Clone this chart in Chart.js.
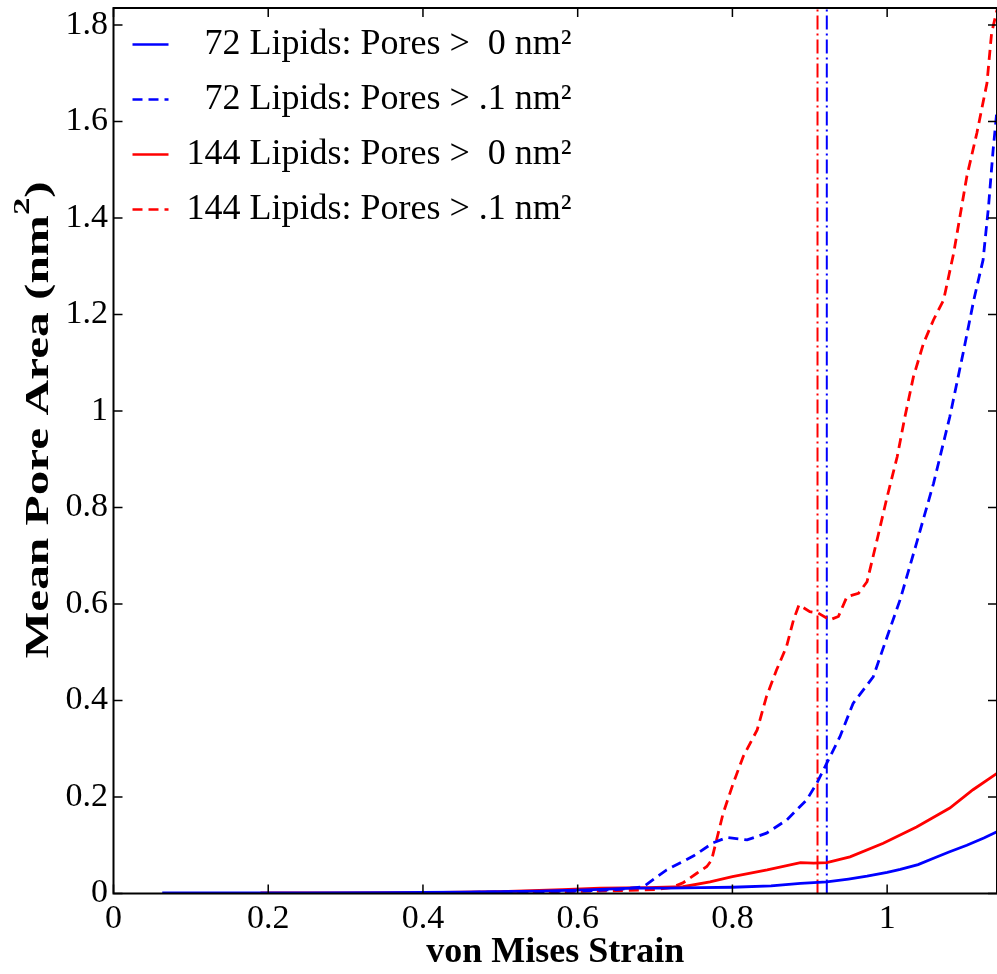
<!DOCTYPE html>
<html>
<head>
<meta charset="utf-8">
<title>Mean Pore Area</title>
<script src="https://cdn.jsdelivr.net/npm/chart.js@4.4.0/dist/chart.umd.min.js"></script>
<style>
  html, body { margin: 0; padding: 0; background: #fff; }
  canvas { display: block; }
</style>
</head>
<body>
<canvas id="poreChart" width="997" height="974"></canvas>
<script>
// Dati (strain di von Mises -> area media dei pori, nm^2)
const strain72All = [0.063, 0.15, 0.25, 0.35, 0.45, 0.55, 0.62, 0.672, 0.715, 0.76, 0.8, 0.85, 0.888, 0.922, 0.95, 0.974, 1.0, 1.017, 1.04, 1.06, 1.08, 1.103, 1.125, 1.142];
const area72All = [0.001, 0.001, 0.001, 0.002, 0.003, 0.005, 0.008, 0.011, 0.011, 0.012, 0.013, 0.016, 0.021, 0.024, 0.03, 0.036, 0.044, 0.05, 0.06, 0.073, 0.086, 0.1, 0.115, 0.128];

const strain72Large = [0.42, 0.5, 0.6, 0.65, 0.685, 0.715, 0.75, 0.775, 0.793, 0.819, 0.844, 0.87, 0.896, 0.909, 0.922, 0.939, 0.956, 0.982, 1.0, 1.017, 1.038, 1.06, 1.081, 1.099, 1.112, 1.124, 1.131, 1.137, 1.142];
const area72Large = [0.002, 0.003, 0.005, 0.008, 0.014, 0.049, 0.078, 0.105, 0.116, 0.111, 0.125, 0.152, 0.194, 0.228, 0.27, 0.325, 0.394, 0.449, 0.532, 0.61, 0.726, 0.85, 0.988, 1.126, 1.23, 1.313, 1.423, 1.541, 1.624];

const strain144All = [0.19, 0.3, 0.4, 0.5, 0.58, 0.629, 0.69, 0.736, 0.771, 0.8, 0.845, 0.888, 0.905, 0.922, 0.952, 0.995, 1.038, 1.081, 1.111, 1.142];
const area144All = [0.001, 0.001, 0.002, 0.004, 0.008, 0.011, 0.012, 0.014, 0.024, 0.035, 0.049, 0.064, 0.063, 0.064, 0.076, 0.104, 0.138, 0.177, 0.215, 0.249];

const strain144Large = [0.48, 0.58, 0.66, 0.7, 0.72, 0.736, 0.754, 0.767, 0.773, 0.788, 0.801, 0.814, 0.832, 0.844, 0.857, 0.87, 0.879, 0.886, 0.9, 0.911, 0.926, 0.937, 0.948, 0.963, 0.974, 0.987, 1.0, 1.013, 1.023, 1.034, 1.047, 1.06, 1.073, 1.086, 1.103, 1.116, 1.129, 1.135, 1.142];
const area144Large = [0.002, 0.004, 0.006, 0.008, 0.012, 0.022, 0.042, 0.056, 0.069, 0.166, 0.228, 0.284, 0.339, 0.408, 0.463, 0.512, 0.567, 0.598, 0.584, 0.581, 0.567, 0.574, 0.615, 0.622, 0.646, 0.733, 0.822, 0.905, 0.988, 1.071, 1.14, 1.189, 1.23, 1.327, 1.486, 1.576, 1.679, 1.783, 1.831];

// Linee verticali tratto-punto (strain di rottura)
const ruptureStrain144 = 0.91;
const ruptureStrain72 = 0.922;

const seriesLabels = [
  "  72 Lipids: Pores >  0 nm\u00b2",
  "  72 Lipids: Pores > .1 nm\u00b2",
  "144 Lipids: Pores >  0 nm\u00b2",
  "144 Lipids: Pores > .1 nm\u00b2",
];

const xMin = 0, xMax = 1.142;
const yMin = 0, yMax = 1.835;

const toPoints = (xs, ys) => xs.map((x, i) => ({ x: x, y: ys[i] }));
const vLine = (x) => [{ x: x, y: yMin }, { x: x, y: yMax }];
const tickText = (v) => String(Number(v.toFixed(1)));

Chart.defaults.font.family = '"Liberation Serif", "Times New Roman", serif';
Chart.defaults.color = "#000";

// Tacche interne su tutti e quattro i lati + riquadro
const boxTicks = {
  id: "boxTicks",
  afterDraw(chart) {
    const { ctx, chartArea: a, scales } = chart;
    const len = 9;
    ctx.save();
    ctx.strokeStyle = "#000";
    ctx.lineWidth = 1.5;
    ctx.beginPath();
    scales.x.ticks.forEach((t) => {
      const px = scales.x.getPixelForValue(t.value);
      ctx.moveTo(px, a.bottom); ctx.lineTo(px, a.bottom - len);
      ctx.moveTo(px, a.top); ctx.lineTo(px, a.top + len);
    });
    scales.y.ticks.forEach((t) => {
      const py = scales.y.getPixelForValue(t.value);
      ctx.moveTo(a.left, py); ctx.lineTo(a.left + len, py);
      ctx.moveTo(a.right, py); ctx.lineTo(a.right - len, py);
    });
    ctx.stroke();
    ctx.lineWidth = 2;
    ctx.strokeRect(a.left, a.top, a.right - a.left, a.bottom - a.top);
    ctx.restore();
  },
};

// Titolo asse y con esponente (testo allungato come nell'originale)
const yTitle = {
  id: "yTitle",
  afterDraw(chart) {
    const { ctx, chartArea: a } = chart;
    const main = "Mean Pore Area (nm";
    const big = 'bold 34px "Liberation Serif"';
    const small = 'bold 24px "Liberation Serif"';
    ctx.save();
    ctx.fillStyle = "#000";
    ctx.font = big;
    const wMain = ctx.measureText(main).width;
    const wClose = ctx.measureText(")").width;
    ctx.font = small;
    const wSup = ctx.measureText("2").width;
    const total = wMain + wSup + wClose;
    ctx.translate(48, (a.top + a.bottom) / 2 - 31);
    ctx.rotate(-Math.PI / 2);
    ctx.scale(1.45, 1);
    ctx.textBaseline = "alphabetic";
    let x = -total / 2;
    ctx.font = big;
    ctx.fillText(main, x, 0);
    x += wMain;
    ctx.font = small;
    ctx.fillText("2", x, -19);
    x += wSup;
    ctx.font = big;
    ctx.fillText(")", x, 0);
    ctx.restore();
  },
};

const ctx = document.getElementById("poreChart").getContext("2d");

new Chart(ctx, {
  type: "scatter",
  data: {
    datasets: [
      { label: seriesLabels[0], data: toPoints(strain72All, area72All), borderColor: "#0000ff", borderDash: [] },
      { label: seriesLabels[1], data: toPoints(strain72Large, area72Large), borderColor: "#0000ff", borderDash: [10, 6] },
      { label: seriesLabels[2], data: toPoints(strain144All, area144All), borderColor: "#ff0000", borderDash: [] },
      { label: seriesLabels[3], data: toPoints(strain144Large, area144Large), borderColor: "#ff0000", borderDash: [10, 6] },
      { label: "rupture 144", data: vLine(ruptureStrain144), borderColor: "#ff0000", borderDash: [14, 4, 2, 4], borderWidth: 2 },
      { label: "rupture 72", data: vLine(ruptureStrain72), borderColor: "#0000ff", borderDash: [14, 4, 2, 4], borderWidth: 2 },
    ],
  },
  options: {
    responsive: false,
    animation: false,
    devicePixelRatio: 1,
    showLine: true,
    elements: {
      point: { radius: 0, hoverRadius: 0 },
      line: { borderWidth: 2.8, tension: 0, fill: false },
    },
    layout: { padding: { left: 0, top: 8, right: 0, bottom: 0 } },
    scales: {
      x: {
        type: "linear",
        min: xMin,
        max: xMax,
        grid: { display: false, drawTicks: false },
        border: { display: false },
        ticks: { stepSize: 0.2, includeBounds: false, padding: 5, font: { size: 34 }, color: "#000", callback: tickText },
        title: { display: true, text: "von Mises Strain", font: { size: 36, weight: "bold" }, padding: 0, color: "#000" },
        afterFit(scale) {
          scale.height = 80.5;
          scale.paddingLeft = 0;
          scale.paddingRight = 0;
        },
      },
      y: {
        type: "linear",
        min: yMin,
        max: yMax,
        grid: { display: false, drawTicks: false },
        border: { display: false },
        ticks: { stepSize: 0.2, includeBounds: false, padding: 5.5, font: { size: 34 }, color: "#000", callback: tickText },
        afterFit(scale) {
          scale.width = 113.5;
          scale.paddingTop = 0;
          scale.paddingBottom = 0;
        },
      },
    },
    plugins: {
      tooltip: { enabled: false },
      legend: {
        position: "chartArea",
        align: "start",
        // titolo vuoto: serve solo a spostare le voci in basso
        title: { display: true, text: "", font: { size: 1, lineHeight: 1 }, padding: { top: 6.5, bottom: 0 } },
        labels: {
          usePointStyle: true,
          pointStyleWidth: 36,
          padding: 19,
          font: { size: 36 },
          color: "#000",
          generateLabels(chart) {
            return chart.data.datasets.slice(0, 4).map((ds, i) => ({
              text: ds.label,
              datasetIndex: i,
              strokeStyle: ds.borderColor,
              fillStyle: ds.borderColor,
              lineWidth: 2.5,
              lineDash: ds.borderDash,
              lineCap: "butt",
              pointStyle: "line",
              fontColor: "#000",
              hidden: false,
            }));
          },
        },
      },
    },
  },
  plugins: [boxTicks, yTitle],
});
</script>
</body>
</html>
